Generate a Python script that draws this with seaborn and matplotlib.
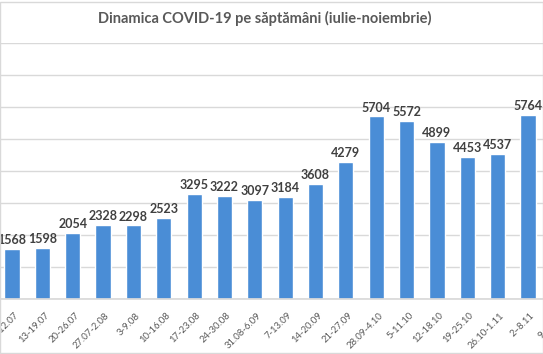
import pandas as pd
import matplotlib.pyplot as plt
import seaborn as sns
from matplotlib.patches import Rectangle
from matplotlib.transforms import ScaledTranslation

# weekly data (July - November)
weeks = ["6-12.07", "13-19.07", "20-26.07", "27.07-2.08", "3-9.08", "10-16.08",
         "17-23.08", "24-30.08", "31.08-6.09", "7-13.09", "14-20.09", "21-27.09",
         "28.09-4.10", "5-11.10", "12-18.10", "19-25.10", "26.10-1.11", "2\u20138.11"]
cases = [1568, 1598, 2054, 2328, 2298, 2523, 3295, 3222, 3097, 3184, 3608, 4279,
         5704, 5572, 4899, 4453, 4537, 5764]
# next week is cut off at the right edge of the picture, value not visible
next_week = "9-15.11"

df = pd.DataFrame({"week": weeks, "cases": cases})

sns.set_theme(style="white")
plt.rcParams["font.family"] = ["Lato", "DejaVu Sans"]

fig = plt.figure(figsize=(5.43, 3.54), dpi=100)
ax = fig.add_axes([-3.2 / 543, 55 / 354, 576.7 / 543, 256 / 354])

sns.barplot(data=df, x="week", y="cases", order=weeks + [next_week],
            color="#4a8dd6", saturation=1, width=0.5, errorbar=None, ax=ax)

ax.set_xlim(-0.5, len(weeks) + 0.5)
ax.set_ylim(0, 8000)
ax.set_yticks(range(0, 8001, 1000))
ax.set_yticklabels([])
ax.yaxis.grid(True, color="#d9d9d9", linewidth=1)
ax.set_axisbelow(True)
ax.tick_params(axis="both", length=0)
for side in ["top", "left", "right"]:
    ax.spines[side].set_visible(False)
ax.spines["bottom"].set_color("#d9d9d9")
ax.set_xlabel("")
ax.set_ylabel("")

for lbl in ax.get_xticklabels():
    lbl.set_rotation(45)
    lbl.set_ha("right")
    lbl.set_rotation_mode("anchor")
    lbl.set_fontsize(6.8)
    lbl.set_color("#595959")
    lbl.set_transform(lbl.get_transform() + ScaledTranslation(0.02, -0.07, fig.dpi_scale_trans))

for c in ax.containers:
    ax.bar_label(c, fmt="%d", padding=2, fontsize=9, fontweight="bold", color="#404040")

fig.text(0.487, 1 - 18 / 354, "Dinamica COVID-19 pe săptămâni (iulie-noiembrie)",
         ha="center", va="center", fontsize=10.5, fontweight="bold", color="#595959")

fig.patches.append(Rectangle((0, 0.003), 1, 0.992, transform=fig.transFigure,
                             fill=False, edgecolor="#d9d9d9", linewidth=1))

fig.savefig("out.png", dpi=100)
